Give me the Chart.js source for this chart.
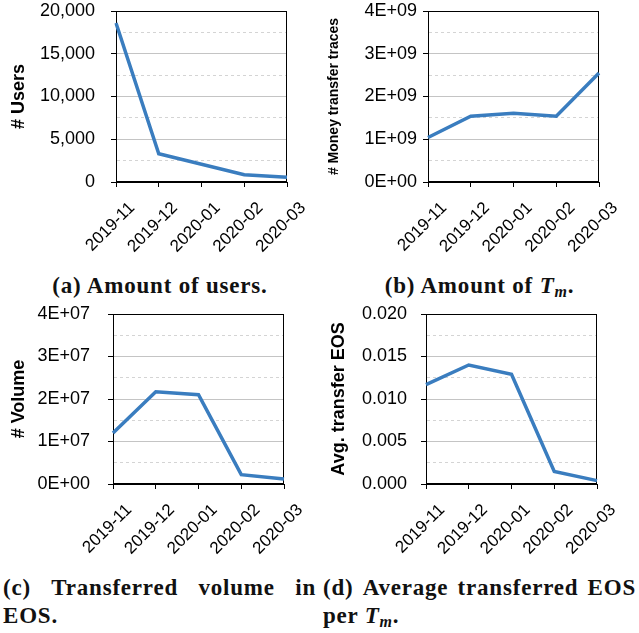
<!DOCTYPE html>
<html>
<head>
<meta charset="utf-8">
<script src="https://cdn.jsdelivr.net/npm/chart.js@4/dist/chart.umd.min.js"></script>
<style>
  body { margin: 0; background: #fff; }
  #page { position: relative; width: 639px; height: 633px; overflow: hidden; }
  canvas { position: absolute; }
  .cap { position: absolute; font-family: "Liberation Serif", serif; font-weight: bold;
         font-size: 23px; line-height: 28px; color: #111; letter-spacing: 0.8px; white-space: nowrap; }
  .cap sub { font-size: 16px; vertical-align: -4px; line-height: 0; }
  .just { display: flex; justify-content: space-between; }
</style>
</head>
<body>
<div id="page">
  <canvas id="chartA" width="320" height="265" style="left:0;top:0"></canvas>
  <canvas id="chartB" width="319" height="265" style="left:320px;top:0"></canvas>
  <canvas id="chartC" width="320" height="265" style="left:0;top:300px"></canvas>
  <canvas id="chartD" width="319" height="265" style="left:320px;top:300px"></canvas>

  <div class="cap" style="left:0;width:320px;top:272px;text-align:center">(a) Amount of users.</div>
  <div class="cap" style="left:320px;width:319px;top:272px;text-align:center">(b) Amount of <i>T</i><sub><i>m</i></sub>.</div>
  <div class="cap" style="left:3px;width:313px;top:574px">
    <div class="just"><span>(c)</span><span>Transferred</span><span>volume</span><span>in</span></div>
    <div>EOS.</div>
  </div>
  <div class="cap" style="left:323px;width:313px;top:574px">
    <div class="just"><span>(d)</span><span>Average</span><span>transferred</span><span>EOS</span></div>
    <div>per <i>T</i><sub><i>m</i></sub>.</div>
  </div>
</div>

<script>
// values
var months = ['2019-11', '2019-12', '2020-01', '2020-02', '2020-03'];
var users = [18600, 3300, 2080, 850, 560];
var moneyTraces = [1.04e9, 1.54e9, 1.61e9, 1.54e9, 2.55e9];
var volume = [1.2e7, 2.17e7, 2.10e7, 0.22e7, 0.12e7];
var avgEos = [0.0117, 0.0140, 0.0129, 0.00148, 0.0004];

var lineColor = '#3a7dbf';
var fontSans = "'Liberation Sans', Arial, sans-serif";

// Excel style 0E+00 labels
function sci(v) {
    if (v === 0) return '0E+00';
    var e = Math.floor(Math.log10(v) + 1e-9);
    var m = Math.round(v / Math.pow(10, e));
    return m + 'E+' + (e < 10 ? '0' + e : e);
}

function isMajor(v, major) {
    var r = v / major;
    return Math.abs(r - Math.round(r)) < 1e-6;
}

// draws the box around the plot area
var framePlugin = {
    id: 'frame',
    beforeDatasetsDraw: function(chart) {
        var a = chart.chartArea;
        var ctx = chart.ctx;
        ctx.save();
        ctx.strokeStyle = '#000';
        ctx.lineWidth = 1;
        ctx.strokeRect(Math.round(a.left) + 0.5, Math.round(a.top) + 0.5,
            Math.round(a.right - a.left) - 1, Math.round(a.bottom - a.top) - 1);
        ctx.restore();
    }
};

function makeChart(id, g) {
    var ctx = document.getElementById(id).getContext('2d');
    var canvasW = ctx.canvas.width, canvasH = ctx.canvas.height;
    return new Chart(ctx, {
        type: 'line',
        data: {
            labels: months,
            datasets: [{
                data: g.data,
                borderColor: lineColor,
                borderWidth: 3.5,
                pointRadius: 0,
                tension: 0,
                fill: false
            }]
        },
        plugins: [framePlugin],
        options: {
            responsive: false,
            animation: false,
            layout: { padding: { left: g.padL, top: g.top, right: canvasW - g.right, bottom: 0 } },
            plugins: { legend: { display: false }, tooltip: { enabled: false } },
            scales: {
                x: {
                    grid: { drawOnChartArea: false, drawTicks: true, tickLength: 5, tickColor: '#000' },
                    border: { display: true, color: '#000', width: 1 },
                    ticks: {
                        color: '#000',
                        font: { family: fontSans, size: 17 },
                        minRotation: 45, maxRotation: 45,
                        autoSkip: false,
                        labelOffset: 16,
                        padding: 11
                    },
                    afterFit: function(s) {
                        s.height = canvasH - g.bottom;
                        s.paddingLeft = 0;
                        s.paddingRight = 0;
                    }
                },
                y: {
                    min: 0, max: g.max,
                    grid: {
                        tickLength: 5,
                        color: function(c) { return c.tick && isMajor(c.tick.value, g.major) ? '#c4c4c4' : '#d4d4d4'; },
                        tickColor: function(c) { return c.tick && isMajor(c.tick.value, g.major) ? '#000' : 'rgba(0,0,0,0)'; }
                    },
                    border: {
                        display: true, color: '#000', width: 1,
                        dash: function(c) { return c.tick && !isMajor(c.tick.value, g.major) ? [3, 3] : []; }
                    },
                    ticks: {
                        stepSize: g.major / 2,
                        autoSkip: false,
                        color: '#000',
                        padding: g.tickPad,
                        font: { family: fontSans, size: 18 },
                        callback: function(v) { return isMajor(v, g.major) ? g.fmt(v) : ''; }
                    },
                    title: {
                        display: true,
                        text: g.title,
                        color: '#000',
                        font: { family: fontSans, size: g.titleSize, weight: 'bold' }
                    },
                    afterFit: function(s) {
                        s.width = g.left - g.padL;
                        s.paddingTop = 0;
                        s.paddingBottom = 0;
                    }
                }
            }
        }
    });
}

makeChart('chartA', {
    data: users, max: 20000, major: 5000, title: '# Users', titleSize: 18,
    fmt: function(v) { return v.toLocaleString('en-US'); },
    padL: 4, left: 116, right: 287, top: 11, bottom: 182, tickPad: 16
});
makeChart('chartB', {
    data: moneyTraces, max: 4e9, major: 1e9, title: '# Money transfer traces', titleSize: 14,
    fmt: sci,
    padL: 2, left: 108, right: 279, top: 11, bottom: 182, tickPad: 6
});
makeChart('chartC', {
    data: volume, max: 4e7, major: 1e7, title: '# Volume', titleSize: 18,
    fmt: sci,
    padL: 4, left: 113, right: 284, top: 14, bottom: 184, tickPad: 18
});
makeChart('chartD', {
    data: avgEos, max: 0.02, major: 0.005, title: 'Avg. transfer EOS', titleSize: 18,
    fmt: function(v) { return v.toFixed(3); },
    padL: 4, left: 106, right: 277, top: 14, bottom: 184, tickPad: 14
});
</script>
</body>
</html>
